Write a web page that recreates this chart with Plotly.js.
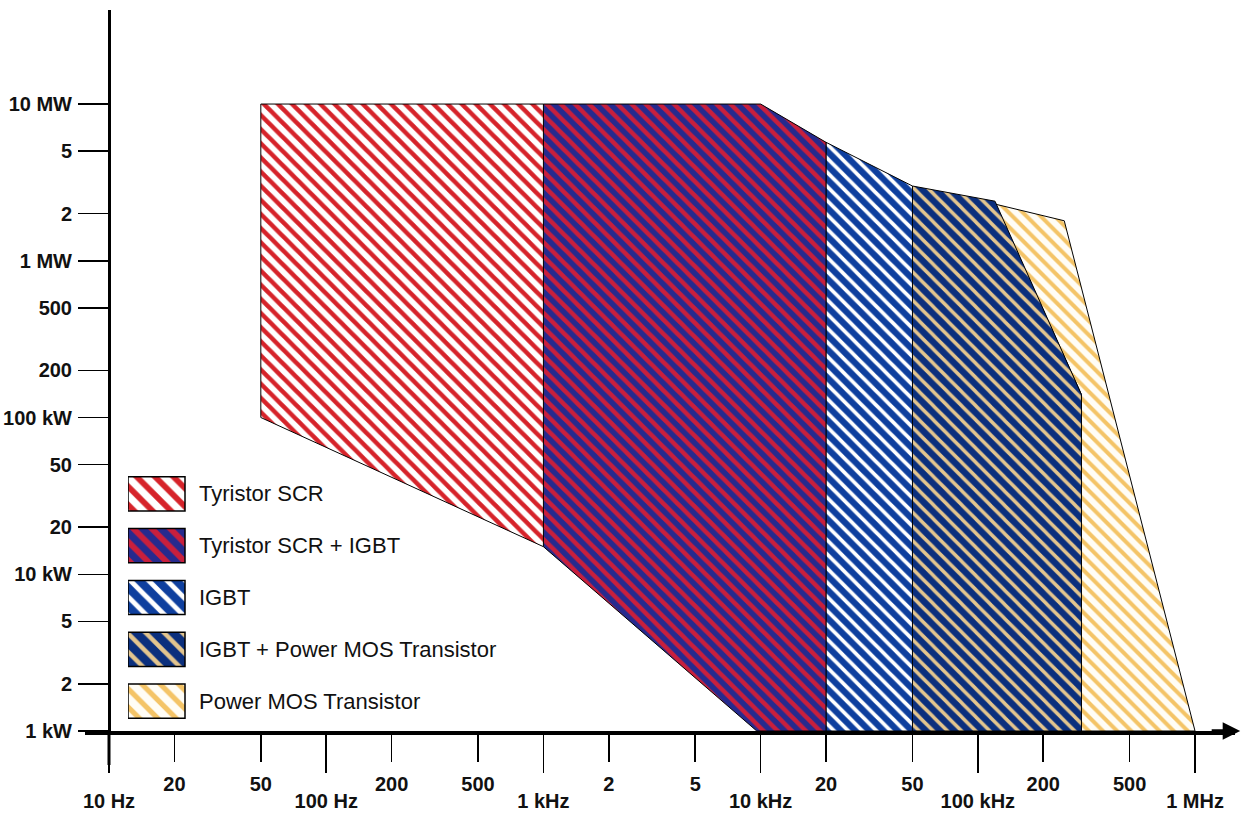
<!DOCTYPE html>
<html>
<head>
<meta charset="utf-8">
<script src="https://cdn.plot.ly/plotly-3.0.1.min.js"></script>
<style>
  html, body { margin: 0; padding: 0; background: #ffffff; }
  #chart { width: 1243px; height: 820px; }
</style>
</head>
<body>
<div id="chart"></div>
<script>
// ---------- data ----------
const freqTicks = [10, 20, 50, 100, 200, 500, 1000, 2000, 5000, 10000, 20000, 50000, 100000, 200000, 500000, 1000000];
const freqLabels = ["10 Hz", "20", "50", "100 Hz", "200", "500", "1 kHz", "2", "5", "10 kHz", "20", "50", "100 kHz", "200", "500", "1 MHz"];
const powerTicks = [1e3, 2e3, 5e3, 1e4, 2e4, 5e4, 1e5, 2e5, 5e5, 1e6, 2e6, 5e6, 1e7];
const powerLabels = ["1 kW", "2", "5", "10 kW", "20", "50", "100 kW", "200", "500", "1 MW", "2", "5", "10 MW"];

const regionNames = ["Tyristor SCR", "Tyristor SCR + IGBT", "IGBT", "IGBT + Power MOS Transistor", "Power MOS Transistor"];

// polygon outlines (frequency in Hz, power in W)
const scrFreq = [50, 1000, 1000, 50];
const scrPower = [1e7, 1e7, 15000, 100000];
const scrIgbtFreq = [1000, 10000, 20000, 20000, 9600, 1000];
const scrIgbtPower = [1e7, 1e7, 5.7e6, 1000, 1000, 15000];
const igbtFreq = [20000, 50000, 50000, 20000];
const igbtPower = [5.7e6, 3e6, 1000, 1000];
const igbtMosFreq = [50000, 120000, 300000, 300000, 50000];
const igbtMosPower = [3e6, 2.4e6, 140000, 1000, 1000];
const mosFreq = [120000, 250000, 1000000, 300000, 300000];
const mosPower = [2.3e6, 1.8e6, 1000, 1000, 140000];

// ---------- styles ----------
const FONT = "Liberation Sans, Arial, sans-serif";
const styles = [
  { bg: "#ffffff", fg: "#d6232a", sol: 0.45 },   // Tyristor SCR
  { bg: "#262a8e", fg: "#c91f3c", sol: 0.45 },   // SCR + IGBT
  { bg: "#0e3f9e", fg: "#ffffff", sol: 0.38 },   // IGBT
  { bg: "#0b2f7d", fg: "#e3c58e", sol: 0.35 },   // IGBT + MOS
  { bg: "#fffdf6", fg: "#f4c467", sol: 0.40 }    // Power MOS
];
const polys = [
  [scrFreq, scrPower],
  [scrIgbtFreq, scrIgbtPower],
  [igbtFreq, igbtPower],
  [igbtMosFreq, igbtMosPower],
  [mosFreq, mosPower]
];

const isDecade = v => Math.abs(Math.log10(v) - Math.round(Math.log10(v))) < 1e-9;
const minorIdx = freqTicks.map((v, i) => i).filter(i => !isDecade(freqTicks[i]));
const decadeIdx = freqTicks.map((v, i) => i).filter(i => isDecade(freqTicks[i]));

const traces = [];
// draw back to front: Power MOS first
[4, 3, 2, 1, 0].forEach(i => {
  const [xs, ys] = polys[i];
  traces.push({
    type: "scatter", mode: "lines",
    x: xs.concat([xs[0]]), y: ys.concat([ys[0]]),
    fill: "toself",
    fillcolor: styles[i].bg,
    fillpattern: { shape: "\\", size: 10, solidity: styles[i].sol, fgcolor: styles[i].fg, bgcolor: styles[i].bg, fillmode: "replace" },
    line: { color: "#000000", width: 1 },
    name: regionNames[i],
    showlegend: false,
    hoverinfo: "skip"
  });
});

// legend swatches on an auxiliary axis pair (rows by index)
const swW = 0.1425, swH = 0.33;
regionNames.forEach((n, i) => {
  traces.push({
    type: "scatter", mode: "lines",
    xaxis: "x2", yaxis: "y2",
    x: [0, swW, swW, 0, 0],
    y: [i - swH, i - swH, i + swH, i + swH, i - swH],
    fill: "toself",
    fillcolor: styles[i].bg,
    fillpattern: { shape: "\\", size: 13, solidity: styles[i].sol, fgcolor: styles[i].fg, bgcolor: styles[i].bg, fillmode: "replace" },
    line: { color: "#000000", width: 1.5 },
    showlegend: false, hoverinfo: "skip"
  });
});
// empty trace so the decade-label axis has a subplot
traces.push({ type: "scatter", mode: "lines", x: [], y: [], xaxis: "x3", yaxis: "y", showlegend: false, hoverinfo: "skip" });

const PLOT_H = 721;  // plot area height in px

const shapes = [
  // y axis continues below the x axis
  { type: "line", xref: "x", yref: "paper", x0: 10, x1: 10, y0: 0, y1: -34 / PLOT_H, line: { color: "#000", width: 3 } }
];

const annotations = [
  // arrow heads
  { xref: "paper", yref: "paper", x: 1.0045, y: 0, ax: -30, ay: 0, showarrow: true, arrowhead: 2, arrowsize: 1, arrowwidth: 3.5, arrowcolor: "#000", text: "" },
  { xref: "x", yref: "paper", x: 10, y: 1.004, ax: 0, ay: 30, showarrow: true, arrowhead: 2, arrowsize: 1, arrowwidth: 3, arrowcolor: "#000", text: "" }
];
regionNames.forEach((n, i) => annotations.push({
  xref: "x2", yref: "y2", x: 0.1725, y: i, xanchor: "left", yanchor: "middle",
  text: n, showarrow: false, font: { family: FONT, size: 22, color: "#111" }
}));

const tickFont = { family: FONT, size: 20, color: "#111", weight: "bold" };
const xRange = [0.8895, 6.184];

const layout = {
  width: 1243, height: 820,
  margin: { l: 85, r: 8, t: 10, b: 89 },
  paper_bgcolor: "#ffffff", plot_bgcolor: "rgba(0,0,0,0)",
  showlegend: false,
  xaxis: {
    type: "log", range: xRange,
    showline: true, linewidth: 4, linecolor: "#000",
    ticks: "outside", ticklen: 27, tickwidth: 1.5, tickcolor: "#000",
    tickmode: "array",
    tickvals: minorIdx.map(i => freqTicks[i]),
    ticktext: minorIdx.map(i => freqLabels[i]),
    tickfont: tickFont, ticklabelstandoff: 5,
    showgrid: false, zeroline: false, fixedrange: true
  },
  xaxis3: {
    type: "log", range: xRange, overlaying: "x", anchor: "y", side: "bottom",
    showline: false,
    ticks: "outside", ticklen: 41, tickwidth: 1.5, tickcolor: "#000",
    tickmode: "array",
    tickvals: decadeIdx.map(i => freqTicks[i]),
    ticktext: decadeIdx.map(i => freqLabels[i]),
    tickfont: tickFont, ticklabelstandoff: 11,
    showgrid: false, zeroline: false, fixedrange: true
  },
  yaxis: {
    type: "log", range: [3, 7.6],
    anchor: "free", position: 24 / 1150,
    showline: true, linewidth: 3, linecolor: "#000",
    ticks: "outside", ticklen: 30, tickwidth: 1.5, tickcolor: "#000",
    tickmode: "array", tickvals: powerTicks, ticktext: powerLabels,
    tickfont: tickFont, ticklabelstandoff: 2,
    showgrid: false, zeroline: false, fixedrange: true
  },
  xaxis2: { domain: [43 / 1150, 443 / 1150], range: [0, 1], anchor: "y2", visible: false, fixedrange: true },
  yaxis2: { domain: [4 / 721, 263 / 721], range: [4.5, -0.5], anchor: "x2", visible: false, fixedrange: true },
  shapes: shapes,
  annotations: annotations
};

Plotly.newPlot("chart", traces, layout, { staticPlot: true, displayModeBar: false });
</script>
</body>
</html>
